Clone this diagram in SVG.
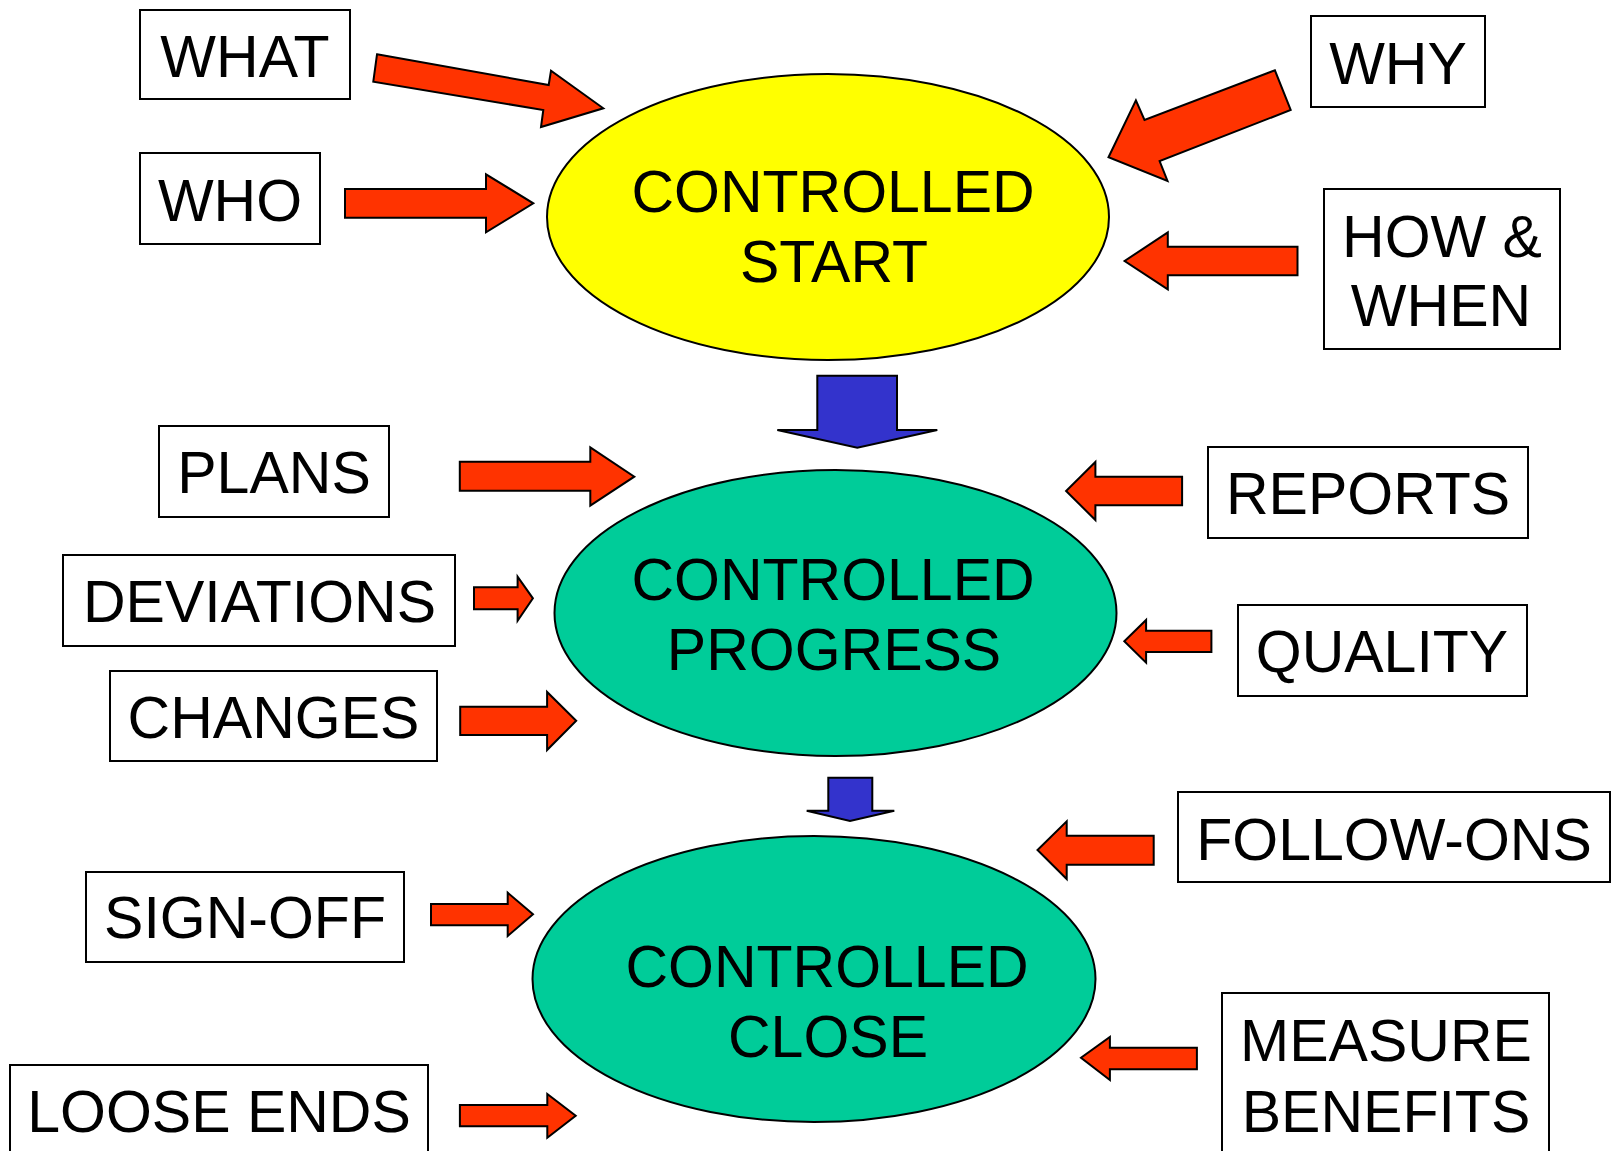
<svg xmlns="http://www.w3.org/2000/svg" width="1618" height="1151" viewBox="0 0 1618 1151">
  <style>
    .box { fill: #FFFFFF; stroke: #000000; stroke-width: 2; }
    .stage { stroke: #000000; stroke-width: 2; }
    .start { fill: #FFFF00; }
    .phase { fill: #00CC99; }
    .lbl { font-family: "Liberation Sans", Arial, sans-serif; font-size: 59px; fill: #000000; text-anchor: middle; }
    .in { fill: #FF3300; stroke: #000000; stroke-width: 2; stroke-linejoin: miter; }
    .flow { fill: #3333CC; stroke: #000000; stroke-width: 2; stroke-linejoin: miter; }
  </style>
  <rect width="1618" height="1151" fill="#FFFFFF"/>

  <!-- stage ellipses -->
  <g id="controlled-start">
    <ellipse class="stage start" cx="828" cy="217" rx="281" ry="143"/>
    <text class="lbl" x="833" y="212">CONTROLLED</text>
    <text class="lbl" x="834" y="282">START</text>
  </g>
  <g id="controlled-progress">
    <ellipse class="stage phase" cx="835.5" cy="613" rx="281" ry="143"/>
    <text class="lbl" x="833" y="600">CONTROLLED</text>
    <text class="lbl" x="834" y="670">PROGRESS</text>
  </g>
  <g id="controlled-close">
    <ellipse class="stage phase" cx="814" cy="979" rx="281.5" ry="143"/>
    <text class="lbl" x="827" y="987">CONTROLLED</text>
    <text class="lbl" x="828" y="1057">CLOSE</text>
  </g>

  <!-- input labels -->
  <g id="what">
    <rect class="box" x="140" y="10" width="210" height="89"/>
    <text class="lbl" x="245" y="77">WHAT</text>
  </g>
  <g id="who">
    <rect class="box" x="140" y="153" width="180" height="91"/>
    <text class="lbl" x="230" y="221">WHO</text>
  </g>
  <g id="why">
    <rect class="box" x="1311" y="16" width="174" height="91"/>
    <text class="lbl" x="1398" y="84">WHY</text>
  </g>
  <g id="how-when">
    <rect class="box" x="1324" y="189" width="236" height="160"/>
    <text class="lbl" x="1442" y="257">HOW &amp;</text>
    <text class="lbl" x="1441" y="326">WHEN</text>
  </g>
  <g id="plans">
    <rect class="box" x="159" y="426" width="230" height="91"/>
    <text class="lbl" x="274" y="493">PLANS</text>
  </g>
  <g id="deviations">
    <rect class="box" x="63" y="555" width="392" height="91"/>
    <text class="lbl" x="259.5" y="622">DEVIATIONS</text>
  </g>
  <g id="changes">
    <rect class="box" x="110" y="671" width="327" height="90"/>
    <text class="lbl" x="273.5" y="738">CHANGES</text>
  </g>
  <g id="reports">
    <rect class="box" x="1208" y="447" width="320" height="91"/>
    <text class="lbl" x="1368" y="514">REPORTS</text>
  </g>
  <g id="quality">
    <rect class="box" x="1238" y="605" width="289" height="91"/>
    <text class="lbl" x="1382" y="672">QUALITY</text>
  </g>
  <g id="sign-off">
    <rect class="box" x="86" y="872" width="318" height="90"/>
    <text class="lbl" x="245" y="938">SIGN-OFF</text>
  </g>
  <g id="loose-ends">
    <rect class="box" x="10" y="1065" width="418" height="100"/>
    <text class="lbl" x="219" y="1132">LOOSE ENDS</text>
  </g>
  <g id="follow-ons">
    <rect class="box" x="1178" y="792" width="432" height="90"/>
    <text class="lbl" x="1394" y="860">FOLLOW-ONS</text>
  </g>
  <g id="measure-benefits">
    <rect class="box" x="1222" y="993" width="327" height="170"/>
    <text class="lbl" x="1386" y="1061">MEASURE</text>
    <text class="lbl" x="1386" y="1132">BENEFITS</text>
  </g>

  <!-- connectors -->
  <g id="connectors">
    <!-- into CONTROLLED START -->
    <polygon class="in" points="377,54.3 548.7,85 551,70.7 603.3,108.3 541,127 543.3,110 373.3,81.7"/>
    <polygon class="in" points="345,189 486,189 486,174.3 533.3,203.3 486,232.3 486,217.7 345,217.7"/>
    <polygon class="in" points="1108.5,157.3 1135.9,100.3 1144.5,120 1274.9,70.3 1290.7,110 1159.6,161 1167.5,181"/>
    <polygon class="in" points="1297.5,246.7 1167.8,246.7 1167.8,232.3 1124.6,261 1167.8,289.3 1167.8,275.3 1297.5,275.3"/>

    <!-- into CONTROLLED PROGRESS -->
    <polygon class="in" points="459.8,461.7 590.3,461.7 590.3,447.3 634.3,476.7 590.3,505.7 590.3,490.7 459.8,490.7"/>
    <polygon class="in" points="474,587.3 517.6,587.3 517.6,576.7 532.9,598.3 517.6,620.7 517.6,609.3 474,609.3"/>
    <polygon class="in" points="460.2,706.7 547.1,706.7 547.1,692 576.2,720.7 547.1,750 547.1,735 460.2,735"/>
    <polygon class="in" points="1182.1,476.7 1095.4,476.7 1095.4,462 1066.1,491 1095.4,520 1095.4,505.3 1182.1,505.3"/>
    <polygon class="in" points="1211.4,630.7 1146.1,630.7 1146.1,620 1124.3,641.3 1146.1,662.7 1146.1,652 1211.4,652"/>

    <!-- into CONTROLLED CLOSE -->
    <polygon class="in" points="431,904 507.7,904 507.7,892.7 533,914.3 507.7,936 507.7,925.3 431,925.3"/>
    <polygon class="in" points="459.9,1105 547.3,1105 547.3,1094 575.7,1115.7 547.3,1137.7 547.3,1126.3 459.9,1126.3"/>
    <polygon class="in" points="1153.7,835.7 1066.7,835.7 1066.7,821.3 1037.5,850 1066.7,879 1066.7,864.7 1153.7,864.7"/>
    <polygon class="in" points="1196.9,1047.7 1109.9,1047.7 1109.9,1037 1081,1057.7 1109.9,1080 1109.9,1069.3 1196.9,1069.3"/>

    <!-- stage to stage -->
    <polygon class="flow" points="817.3,375.7 897,375.7 897,430 937.3,430 857.3,447.7 777.3,430 817.3,430"/>
    <polygon class="flow" points="828.3,777.7 872.3,777.7 872.3,810.7 894.3,810.7 850,821 806.7,810.7 828.3,810.7"/>
  </g>
</svg>
